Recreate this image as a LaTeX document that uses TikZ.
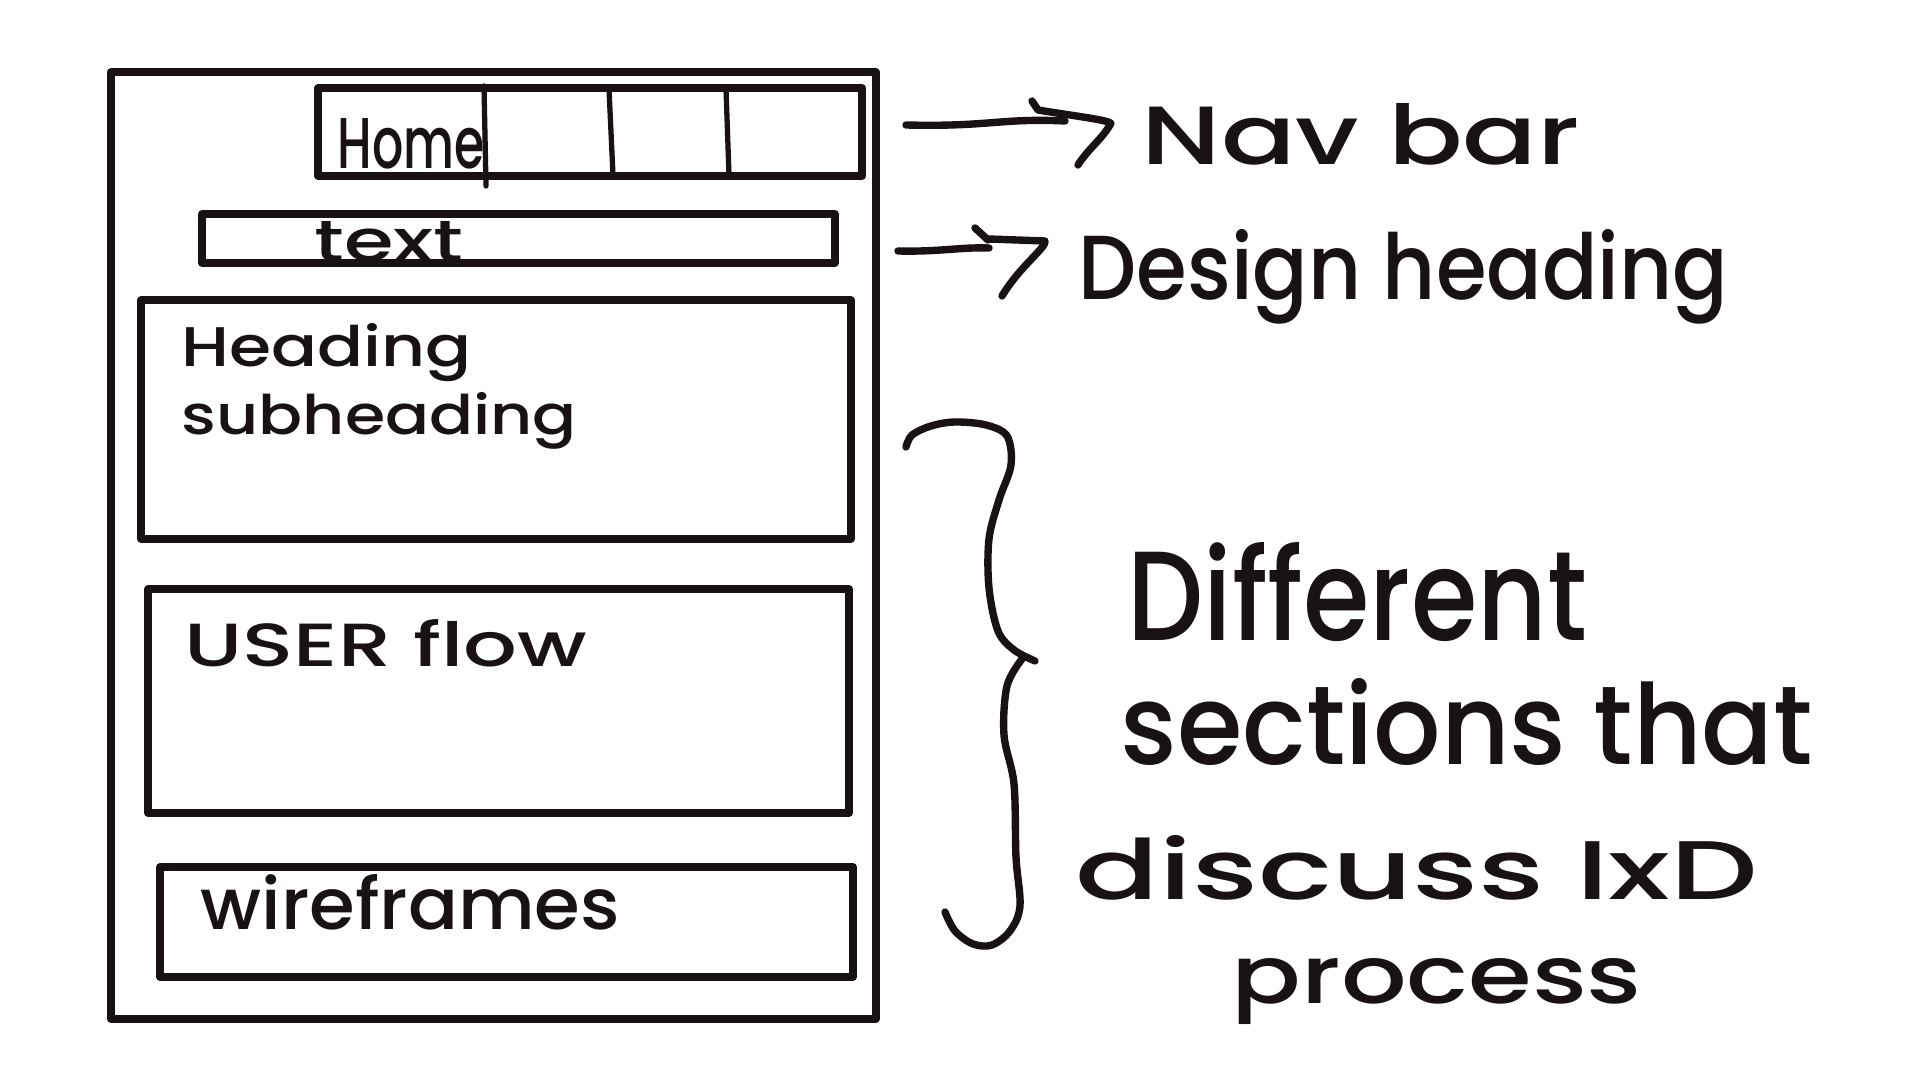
\documentclass[tikz,border=0pt]{standalone}
\usepackage{fontspec}
\setmainfont{Poppins}
\newfontfamily\handfont{Poppins Medium}
\usetikzlibrary{calc}
\definecolor{ink}{RGB}{24,18,18}
% hand-lettered label: width, height above baseline (cm), text
\newcommand{\hw}[3]{\resizebox{#1cm}{#2cm}{#3}}

\begin{document}
\begin{tikzpicture}[x=0.01cm,y=-0.01cm,
  ink/.style={draw=ink,line width=2.1pt,line cap=round,line join=round},
  thinink/.style={draw=ink,line width=1.5pt,line cap=round,line join=round},
  hand/.style={anchor=base west,inner sep=0pt,text=ink,font=\fontsize{20}{24}\handfont}]

\fill[white] (0,0) rectangle (1920,1080);
\useasboundingbox (0,0) rectangle (1920,1080);

% page frame
\draw[ink] (111,72) rectangle (876,1019);

% navigation bar with its four cells
\draw[ink] (318,88) rectangle (862,176);
\draw[thinink] (484,86) -- (486,186);
\draw[thinink] (609,89) -- (613,175);
\draw[thinink] (726,89) -- (729,175);

% page sections
\draw[ink] (202,214) rectangle (835,263);
\draw[ink] (141,300) rectangle (851,539);
\draw[ink] (148,589) rectangle (849,813);
\draw[ink] (160,867) rectangle (853,977);

% labels inside the page
\node[hand] (home)  at (337,169) {\hw{1.47}{0.50}{Home}};
\node[hand] (txt)   at (314,262) {\hw{1.49}{0.40}{text}};
\node[hand] (head)  at (181,367) {\hw{2.90}{0.43}{Heading}};
\node[hand] (sub)   at (181,435) {\hw{3.95}{0.42}{subheading}};
\node[hand] (flow)  at (184,667) {\hw{4.02}{0.47}{USER flow}};
\node[hand] (wire)  at (200,930) {\hw{4.19}{0.55}{wireframes}};

% annotations
\node[hand] (navlbl)  at (1141,165) {\hw{4.38}{0.61}{Nav bar}};
\node[hand] (deslbl)  at (1078,300) {\hw{6.49}{0.70}{Design heading}};
\node[hand] (diff)    at (1127,641) {\hw{4.59}{0.98}{Different}};
\node[hand] (sect)    at (1120,765) {\hw{6.92}{0.86}{sections that}};
\node[hand] (disc)    at (1075,900) {\hw{6.82}{0.64}{discuss IxD}};
\node[hand] (proc)    at (1231,1004) {\hw{4.10}{0.45}{process}};

% arrow to the navigation label
\coordinate (navfrom) at (906,125);
\coordinate (navtip) at (1110,125);
\draw[ink] (navfrom) .. controls (990,127) and (1000,118) .. ($(navtip)+(-45,-4)$);
\draw[ink] ($(navtip)+(-78,-24)$) -- ($(navtip)+(-72,-15)$)
  .. controls ($(navtip)+(-30,-8)$) and ($(navtip)+(8,-4)$) .. (navtip)
  .. controls ($(navtip)+(-8,14)$) and ($(navtip)+(-22,24)$) .. ($(navtip)+(-32,40)$);

% arrow to the heading label
\coordinate (desfrom) at (898,251);
\coordinate (destip) at (1045,241);
\draw[ink] (desfrom) .. controls (940,252) and (960,247) .. ($(destip)+(-56,7)$);
\draw[ink] ($(destip)+(-70,-13)$) -- ($(destip)+(-57,-1)$);
\draw[ink] ($(destip)+(-56,-2)$) -- (destip)
  .. controls ($(destip)+(2,6)$) and ($(destip)+(-25,25)$) .. ($(destip)+(-43,55)$);

% curly brace grouping the sections
\draw[ink] plot[smooth,tension=0.55] coordinates {
  (906,447) (912,435) (931,426) (955,422) (986,425) (1007,436)
  (1011,465) (999,500) (989,539) (989,588) (998,631) (1014,650) (1035,661)};
\draw[ink] plot[smooth,tension=0.55] coordinates {
  (1022,659) (1007,686) (1004,735) (1014,784) (1016,857) (1020,906)
  (1010,931) (992,945) (973,944) (955,931) (945,912)};
\end{tikzpicture}
\end{document}
